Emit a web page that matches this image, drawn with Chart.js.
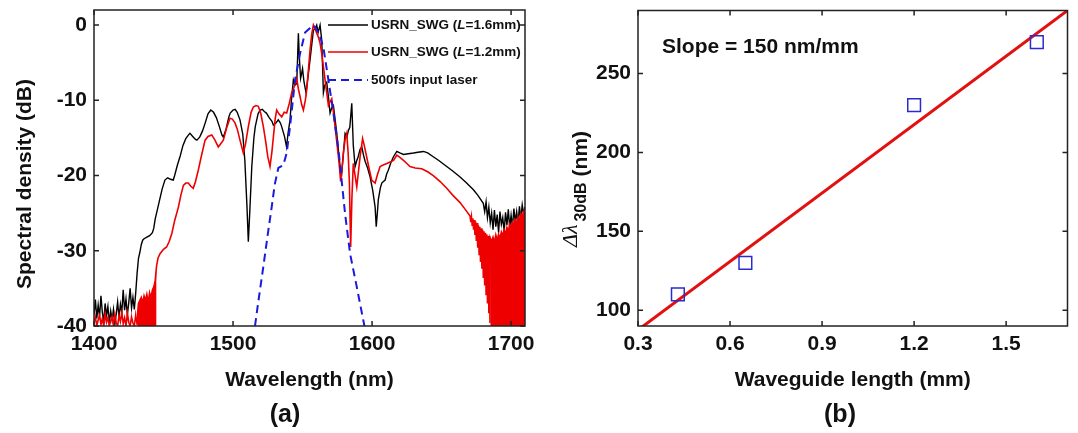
<!DOCTYPE html>
<html>
<head>
<meta charset="utf-8">
<script src="https://cdn.jsdelivr.net/npm/chart.js@4.4.1/dist/chart.umd.min.js"></script>
<style>
  body { margin: 0; background: #fff; }
  #wrap { position: relative; width: 1078px; height: 433px; background: #fff; }
  canvas { position: absolute; top: 0; }
</style>
</head>
<body>
<div id="wrap">
  <canvas id="spec_chart" width="540" height="433" style="left:0"></canvas>
  <canvas id="len_chart" width="538" height="433" style="left:540px"></canvas>
</div>
<script>
// ---- (a) spectra ----
var blackWl = [
  1400,1401,1402,1403,1404,1405,1406,1407,1408,1409,1410,1411,1412,1413,1414,1415,
  1416,1417,1418,1419,1420,1421,1422,1423,1424,1425,1426,1427,1428,1429,1430,1431,
  1432,1433,1434,1435,1436,1438,1440,1442,1443,1444,1445,1447,1449,1451,1453,1455,
  1457,1458,1460,1462,1464,1466,1468,1469,1471,1473,1474,1476,1478,1480,1482,1484,
  1486,1488,1490,1492,1493,1495,1497,1498,1500,1501.5,1503,1505,1507,1508.5,1510,1511,
  1512,1513.5,1515,1516,1518,1519.5,1521,1522.5,1524,1526,1528,1529,1531,1532.5,1534,1535,
  1537,1538.5,1539.5,1541,1542,1543.4,1544.5,1545.8,1546.5,1547,1547.6,1548.6,1549.3,1550,1551,1552.5,
  1554,1555.4,1556.5,1557.8,1559,1560.2,1561.2,1562.6,1563.8,1565,1566,1567.4,1568.6,1569.8,1571,1572.2,
  1573.4,1574.6,1576,1577,1578.2,1579.4,1580.6,1582,1583,1584,1585.4,1586.5,1587.8,1589,1590,1591.4,
  1592.6,1594,1595,1596.8,1598.6,1600.5,1602.2,1603,1603.8,1604.5,1606,1607,1608.2,1609.4,1610.5,1611.7,
  1613.5,1615.4,1617.8,1620,1622.6,1626,1629.8,1633,1637,1640,1644,1648,1653.7,1658,1663.3,1668,
  1672.9,1676,1680,1681,1682,1683,1684,1685,1686,1687,1688,1689,1690,1691,1692,1693,
  1694,1695,1696,1697,1698,1699,1700,1701,1702,1703,1704,1705,1706,1707,1708,1709,1710
];
var blackDb = [
  -38.5,-36.5,-39,-37.2,-38.8,-36,-38.2,-39.5,-37,-38.6,-37.4,-39.6,-38,-39.2,-37.8,-39.8,
  -38.4,-36.8,-38.9,-37.1,-38.2,-35.2,-37.9,-36.4,-38.5,-36.9,-35,-37.6,-36.2,-37.8,-35.6,-33,
  -31,-30.2,-29.2,-28.6,-28.4,-28.2,-28,-27.6,-27,-25.8,-25,-23.4,-21.8,-20.6,-20.3,-20.5,
  -20.6,-20,-18.6,-17.4,-16,-15.1,-14.6,-14.4,-14.8,-15.2,-15.3,-14.9,-14.1,-13,-11.8,-11.3,
  -11.6,-12.3,-13.4,-14.6,-14.9,-13.8,-12.2,-11.7,-11.3,-11.2,-11.6,-12.6,-14.5,-18,-24,-28.8,
  -25,-18.8,-15,-13.5,-11.8,-11.3,-11.2,-11.5,-11.7,-12.3,-12.8,-13.3,-13,-12.6,-13,-13.5,
  -14.8,-16.2,-14.5,-12.6,-10,-7.3,-8,-7.8,-4,-1.1,-4,-7.1,-6.5,-5.8,-7.5,-9,
  -6.8,-4.6,-2.8,-0.7,-0.5,0,-1,0,-2,-9,-8,-7.6,-9.5,-11.7,-11,-10.7,
  -12.5,-14.4,-17,-18.8,-19.7,-17,-14.4,-14.8,-14,-13.6,-10.4,-16,-18.8,-18,-17.5,-16.5,
  -16.2,-17.4,-18.1,-19,-20.2,-22,-24.2,-26.8,-25,-23.2,-21.6,-21,-20.8,-20.6,-19.8,-19.3,
  -18.3,-17.5,-16.8,-17,-17.2,-17.1,-17,-16.9,-16.8,-17,-17.5,-18,-18.8,-19.4,-20.2,-21,
  -21.9,-22.6,-23.7,-24.8,-23.5,-25.6,-24.2,-26.3,-25,-27.2,-24.6,-26.8,-25.2,-27.6,-24.8,-26.5,
  -25.6,-27.4,-24.9,-26.6,-24.5,-27,-25.3,-26.9,-24.4,-26.2,-24.8,-26.5,-24.1,-25.8,-23.9,-25.1,-24.2
];

var redWl = [
  1400,1401,1402,1403,1404,1405,1406,1407,1408,1409,1410,1411,1412,1413,1414,1415,
  1416,1417,1418,1419,1420,1421,1422,1423,1424,1425,1426,1427,1428,1429,1430,1431,
  1431.5,1432,1433,1434,1435,1436,1437,1438,1439,1440,1441,1442,1443,1444,1445,
  1446,1447.5,1450,1452.2,
  1454,1456,1458,1460.7,1462.5,1464.3,1466,1467.8,1469.5,1471.4,1473,1475,1477,1479.9,1482,1484.7,
  1487,1489.4,1491,1493,1495.5,1497.8,1499.5,1501.4,1503,1505,1507.4,1509,1511,1513,1514.6,1516.5,
  1518.2,1520,1521.8,1523.5,1525,1526.6,1528,1529,1530.3,1531.4,1533,1535,1536.8,1538.6,1540.5,1542.2,
  1544,1545.8,1547,1548.2,1549.4,1550.6,1552,1553,1554.2,1555.4,1556.6,1557.8,1559,1560.2,1561.4,1562.6,
  1563.8,1565,1566.2,1567.4,1568.6,1569.8,1571,1572.2,1573.4,1574.6,1575.8,1576.6,1577.4,1578.4,1579.4,1580.6,
  1581.8,1582.8,1583.7,1584.6,1585.5,1586.5,1587.8,1589,1590.2,1591.4,1593.2,1594.6,1596.1,1598,1599.7,1602.2,
  1604,1605.8,1608,1610.6,1613,1615.4,1617.8,1620,1622.6,1625,1627.3,1631,1635.7,1640,1644,1649,
  1653.7,1658,1663.3,1667,1670.5,1671,1671.5,1672,1672.5,1673,1673.5,1674,1674.5,1675,1675.5,1676,
  1676.5,1677,1677.5,1678,1678.5,1679,1679.5,1680,1680.5,1681,1681.5,1682,1682.5,1683,1683.5,1684,
  1684.5,1684.8,1685,1686,1687,1688,1689,1690,1691,1692,1693,1694,1695,1696,1697,
  1698,1699,1700,1701,1702,1703,1704,1705,1706,1707,1708,1709,1710
];
var redDb = [
  -39.5,-38.8,-40,-39.2,-38.6,-39.8,-39,-40,-38.4,-39.5,-38.9,-40,-39.3,-38.7,-39.9,-38.5,
  -39.6,-40,-38.6,-39.4,-38.2,-39.7,-38.9,-40,-38.3,-39.5,-40,-38.8,-39.6,-40,-38.5,-39.8,
  -38,-37,-36.6,-36.2,-37,-36,-36.6,-35.8,-36.9,-35.6,-36.3,-35.2,-34.8,-34,-32,
  -31,-30.4,-29.8,-29.5,
  -28.8,-27.7,-26,-24.2,-22.6,-21.3,-21,-21,-21.4,-21.7,-20.8,-19.3,-17.6,-15.3,-14.8,-14.6,
  -15.3,-16.2,-15.8,-15.3,-13.6,-12.4,-12.5,-13,-13.8,-15.3,-17,-15.8,-13.5,-11.6,-10.9,-10.7,
  -10.8,-11.8,-13.5,-15.5,-17.5,-18.8,-16.8,-14.9,-12.5,-11.3,-11.8,-12.2,-11.6,-11.7,-10.4,-9,
  -8.2,-7.1,-8.5,-9.5,-10.6,-11.3,-10,-8.6,-6,-3.3,-1.2,0,-0.5,-1.1,-1.6,-2.4,
  -3.8,-5.5,-7.3,-9,-10.7,-10.2,-9.8,-11.5,-13.5,-15.5,-17.5,-19,-20.8,-19,-17,-15.2,
  -14.4,-17,-21,-29.5,-23,-18.4,-20,-21.5,-19.5,-17.5,-15.1,-16.2,-17.5,-19.2,-20.6,-21,
  -19.8,-18.8,-18.6,-18.4,-18.2,-18,-17.3,-17.6,-18,-18.4,-18.8,-19,-19.1,-19.5,-20,-20.8,
  -21.7,-22.6,-23.6,-24.5,-25.4,-26.2,-25.5,-26.6,-25.7,-27.2,-25.9,-27.9,-26.1,-28.7,-26.3,-29.6,
  -26.6,-30.5,-26.8,-31.5,-27,-32.4,-27.2,-33.5,-27.4,-34.6,-27.6,-35.8,-27.8,-37,-28,-38.3,
  -28.1,-39.6,-28.3,-28.8,-28.2,-28.9,-27.9,-28.6,-27.8,-28.4,-27.5,-28,-27.2,-27.8,-26.9,
  -27.4,-26.5,-27.1,-26.2,-26.7,-25.9,-26.4,-25.5,-26,-25.1,-25.5,-24.8,-24.5
];
// stretches where the red trace is a solid noise band down to the floor
var redFloorBands = [[1431.5, 1445], [1685, 1710]];

var laserWl = [1515.8,1518,1521.8,1525,1527.8,1530,1532.6,1536.2,1538.6,1541,1544.6,1548.2,1551.8,
               1555.4,1557,1559,1562,1565,1568.6,1572.2,1575.8,1578.2,1580.6,1584.2,1589,1594.5];
var laserDb = [-40,-37,-32.1,-27.8,-24.2,-21.2,-19,-18.6,-17,-13.5,-7.3,-3.8,-1,
               -0.4,0,-0.3,-1.2,-3,-7.3,-11.7,-16.5,-20.8,-25.1,-30.4,-34.8,-40];

var specLabels = ['USRN_SWG (L=1.6mm)', 'USRN_SWG (L=1.2mm)', '500fs input laser'];
var wlTicks = [1400, 1500, 1600, 1700];
var dbTicks = [-40, -30, -20, -10, 0];

// ---- (b) bandwidth vs length ----
var lengthMm = [0.43, 0.65, 1.2, 1.6];
var bandwidthNm = [110, 130, 230, 270];
var fitLen = [0.3, 1.7];
var fitBw = [87.5, 290];
var lenTicks = [0.3, 0.6, 0.9, 1.2, 1.5];
var bwTicks = [100, 150, 200, 250];

var FONT = '"Liberation Sans", Arial, sans-serif';
var INK = '#111';
var RED = '#ee0000';
var BLUE = '#1a1adf';

function pairs(xs, ys) {
    return xs.map(function (x, i) { return { x: x, y: ys[i] }; });
}

// box round the plot with inward ticks on all four sides
function drawFrame(chart) {
    var ctx = chart.ctx, a = chart.chartArea;
    var xs = chart.scales.x, ys = chart.scales.y;
    ctx.save();
    ctx.strokeStyle = '#222';
    ctx.lineWidth = 1.5;
    ctx.strokeRect(a.left, a.top, a.right - a.left, a.bottom - a.top);
    ctx.beginPath();
    xs.ticks.forEach(function (t) {
        var px = xs.getPixelForValue(t.value);
        ctx.moveTo(px, a.bottom); ctx.lineTo(px, a.bottom - 5);
        ctx.moveTo(px, a.top); ctx.lineTo(px, a.top + 5);
    });
    ys.ticks.forEach(function (t) {
        var py = ys.getPixelForValue(t.value);
        ctx.moveTo(a.left, py); ctx.lineTo(a.left + 5, py);
        ctx.moveTo(a.right, py); ctx.lineTo(a.right - 5, py);
    });
    ctx.stroke();
    ctx.restore();
}

function bold(size) { return 'bold ' + size + 'px ' + FONT; }

function tickFont() { return { family: FONT, size: 21, weight: 'bold' }; }

function xAxis(min, max, ticksList, title, fmt) {
    return {
        type: 'linear', min: min, max: max,
        afterBuildTicks: function (s) { s.ticks = ticksList.map(function (v) { return { value: v }; }); },
        afterFit: function (s) { s.height = 107; s.paddingLeft = 0; s.paddingRight = 0; },
        ticks: { color: INK, font: tickFont(), padding: 6, maxRotation: 0, autoSkip: false,
                 callback: fmt },
        grid: { display: false, drawTicks: false },
        border: { display: false },
        title: { display: true, text: title, color: INK, font: { family: FONT, size: 21, weight: 'bold' },
                 padding: { top: 0, bottom: 40 } }
    };
}

function yAxis(min, max, ticksList, width) {
    return {
        type: 'linear', min: min, max: max,
        afterBuildTicks: function (s) { s.ticks = ticksList.map(function (v) { return { value: v }; }); },
        afterFit: function (s) { s.width = width; s.paddingTop = 0; s.paddingBottom = 0; },
        ticks: { color: INK, font: tickFont(), padding: 7 },
        grid: { display: false, drawTicks: false },
        border: { display: false }
    };
}

// legend row with an italic L, like the figure
function legendRow(ctx, y, color, dash, text) {
    ctx.save();
    ctx.strokeStyle = color;
    ctx.lineWidth = dash ? 2 : 1.6;
    ctx.setLineDash(dash || []);
    ctx.beginPath();
    ctx.moveTo(328, y); ctx.lineTo(368, y);
    ctx.stroke();
    ctx.setLineDash([]);
    ctx.fillStyle = INK;
    ctx.textBaseline = 'middle';
    var x = 371;
    var parts = text.split('L=');
    ctx.font = bold(13.5);
    if (parts.length === 2) {
        ctx.fillText(parts[0], x, y); x += ctx.measureText(parts[0]).width;
        ctx.font = 'italic ' + bold(13.5);
        ctx.fillText('L', x, y); x += ctx.measureText('L').width;
        ctx.font = bold(13.5);
        ctx.fillText('=' + parts[1], x, y);
    } else {
        ctx.fillText(text, x, y);
    }
    ctx.restore();
}

var specDecor = {
    id: 'specDecor',
    afterDatasetsDraw: function (chart) {
        var ctx = chart.ctx;
        drawFrame(chart);
        legendRow(ctx, 25, '#000', null, specLabels[0]);
        legendRow(ctx, 52, RED, null, specLabels[1]);
        legendRow(ctx, 80, BLUE, [8, 5], specLabels[2]);
        ctx.save();
        ctx.fillStyle = INK;
        ctx.textAlign = 'center';
        ctx.textBaseline = 'middle';
        ctx.font = bold(25);
        ctx.fillText('(a)', 285, 415);
        ctx.translate(25, 184);
        ctx.rotate(-Math.PI / 2);
        ctx.font = bold(21);
        ctx.fillText('Spectral density (dB)', 0, 0);
        ctx.restore();
    }
};

var lenDecor = {
    id: 'lenDecor',
    afterDatasetsDraw: function (chart) {
        var ctx = chart.ctx;
        drawFrame(chart);
        ctx.save();
        ctx.fillStyle = INK;
        ctx.textBaseline = 'middle';
        ctx.font = bold(21);
        ctx.fillText('Slope = 150 nm/mm', 122, 47);
        ctx.textAlign = 'center';
        ctx.font = bold(25);
        ctx.fillText('(b)', 300, 415);
        // y title: Δλ with 30dB subscript, then (nm)
        ctx.textAlign = 'left';
        ctx.textBaseline = 'alphabetic';
        ctx.translate(0, 247);
        ctx.rotate(-Math.PI / 2);
        ctx.font = 'italic 22px "Liberation Serif", serif';
        ctx.fillText('\u0394\u03bb', 0, 37);
        var u = ctx.measureText('\u0394\u03bb').width + 3;
        ctx.font = bold(16);
        ctx.fillText('30dB', u, 46);
        u += ctx.measureText('30dB').width + 6;
        ctx.font = bold(21);
        ctx.fillText('(nm)', u, 47);
        ctx.restore();
    }
};

var redPoints = pairs(redWl, redDb);
var bandSets = redFloorBands.map(function (b) {
    return {
        label: 'band',
        data: redPoints.filter(function (p) { return p.x >= b[0] && p.x <= b[1]; }),
        showLine: true,
        borderWidth: 0,
        borderColor: RED,
        backgroundColor: RED,
        fill: 'start',
        pointRadius: 0
    };
});

var spec_chart = new Chart(document.getElementById('spec_chart').getContext('2d'), {
    type: 'scatter',
    data: {
        datasets: [{
            label: specLabels[2],
            data: pairs(laserWl, laserDb),
            showLine: true,
            borderColor: BLUE,
            borderWidth: 2,
            borderDash: [8, 5],
            pointRadius: 0
        }, {
            label: specLabels[1],
            data: redPoints,
            showLine: true,
            borderColor: RED,
            borderWidth: 1.6,
            pointRadius: 0
        }].concat(bandSets, [{
            label: specLabels[0],
            data: pairs(blackWl, blackDb),
            showLine: true,
            borderColor: '#000',
            borderWidth: 1.4,
            pointRadius: 0
        }])
    },
    options: {
        responsive: false,
        animation: false,
        devicePixelRatio: 1,
        layout: { padding: { left: 0, right: 15, top: 10, bottom: 0 } },
        plugins: { legend: { display: false }, tooltip: { enabled: false } },
        scales: {
            x: xAxis(1400, 1710, wlTicks, 'Wavelength (nm)'),
            y: yAxis(-40, 2, dbTicks, 94)
        }
    },
    plugins: [specDecor]
});

var len_chart = new Chart(document.getElementById('len_chart').getContext('2d'), {
    type: 'scatter',
    data: {
        datasets: [{
            label: 'data',
            data: pairs(lengthMm, bandwidthNm),
            pointStyle: 'rect',
            pointRadius: 9,
            backgroundColor: 'rgba(0,0,0,0)',
            borderColor: '#2a2ad0',
            borderWidth: 1.5
        }, {
            label: 'fit',
            data: pairs(fitLen, fitBw),
            showLine: true,
            borderColor: '#e31010',
            borderWidth: 3,
            pointRadius: 0
        }]
    },
    options: {
        responsive: false,
        animation: false,
        devicePixelRatio: 1,
        layout: { padding: { left: 0, right: 10, top: 10, bottom: 0 } },
        plugins: { legend: { display: false }, tooltip: { enabled: false } },
        scales: {
            x: xAxis(0.3, 1.7, lenTicks, 'Waveguide length (mm)',
                     function (v) { return v.toFixed(1); }),
            y: yAxis(90, 290, bwTicks, 98)
        }
    },
    plugins: [lenDecor]
});
</script>
</body>
</html>
